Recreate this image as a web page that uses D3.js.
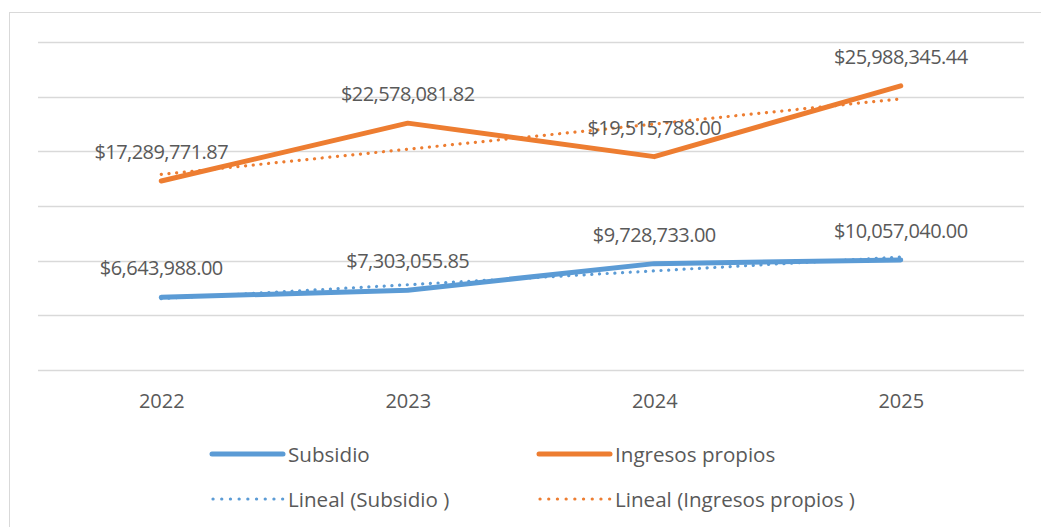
<!DOCTYPE html>
<html>
<head>
<meta charset="utf-8">
<script src="https://cdn.jsdelivr.net/npm/d3@7"></script>
<style>
  html, body { margin: 0; padding: 0; background: #fff; }
  svg { display: block; }
  text { font-family: "Open Sans", sans-serif; fill: #595959; }
</style>
</head>
<body>
<svg id="chart" width="1041" height="527"></svg>
<script>
// Data
const years = ["2022", "2023", "2024", "2025"];
const subsidio = [6643988.00, 7303055.85, 9728733.00, 10057040.00];
const ingresosPropios = [17289771.87, 22578081.82, 19515788.00, 25988345.44];
const yTicks = [0, 5000000, 10000000, 15000000, 20000000, 25000000, 30000000];
const seriesNames = ["Subsidio", "Ingresos propios"];
const trendNames = ["Lineal (Subsidio )", "Lineal (Ingresos propios )"];

const colors = ["#5B9BD5", "#ED7D31"];
const series = [subsidio, ingresosPropios];

const svg = d3.select("#chart");

// Chart frame
svg.append("rect")
  .attr("x", 9.5).attr("y", 12.5)
  .attr("width", 1040).attr("height", 530)
  .attr("fill", "#fff").attr("stroke", "#d9d9d9").attr("stroke-width", 1);

const plot = { left: 38, right: 1024, top: 42, bottom: 370 };

const x = d3.scalePoint().domain(years).range([plot.left, plot.right]).padding(0.5);
const y = d3.scaleLinear().domain([0, 30000000]).range([plot.bottom, plot.top]);

// Horizontal gridlines
svg.append("g").selectAll("line").data(yTicks).join("line")
  .attr("x1", plot.left).attr("x2", plot.right)
  .attr("y1", d => Math.round(y(d)) + 0.5).attr("y2", d => Math.round(y(d)) + 0.5)
  .attr("stroke", "#d9d9d9").attr("stroke-width", 1.5);

// Category axis labels
const xAxis = d3.axisBottom(x).tickSize(0).tickPadding(0);
const gx = svg.append("g").attr("transform", `translate(0,${plot.bottom})`).call(xAxis);
gx.select(".domain").remove();
gx.selectAll("text")
  .attr("dy", null).attr("y", 38)
  .style("font-size", "20px").style("fill", "#595959")
  .style("font-family", "'Open Sans', sans-serif");

// Least-squares trend line for a series
function linearTrend(values) {
  const n = values.length;
  const xs = d3.range(n);
  const mx = d3.mean(xs), my = d3.mean(values);
  const slope = d3.sum(xs, i => (i - mx) * (values[i] - my)) / d3.sum(xs, i => (i - mx) ** 2);
  const icpt = my - slope * mx;
  return xs.map(i => icpt + slope * i);
}

const line = d3.line()
  .x((d, i) => x(years[i]))
  .y(d => y(d));

// Trend lines (dotted)
series.forEach((vals, k) => {
  svg.append("path")
    .attr("d", line(linearTrend(vals)))
    .attr("fill", "none")
    .attr("stroke", colors[k])
    .attr("stroke-width", 3.2)
    .attr("stroke-linecap", "round")
    .attr("stroke-dasharray", "0.1 7.6");
});

// Data lines
series.forEach((vals, k) => {
  svg.append("path")
    .attr("d", line(vals))
    .attr("fill", "none")
    .attr("stroke", colors[k])
    .attr("stroke-width", 5)
    .attr("stroke-linejoin", "round")
    .attr("stroke-linecap", "round");
});

// Value labels
const fmt = v => "$" + d3.format(",.2f")(v);
series.forEach((vals, k) => {
  svg.append("g").selectAll("text").data(vals).join("text")
    .attr("x", (d, i) => x(years[i]))
    .attr("y", d => y(d) - 22)
    .attr("text-anchor", "middle")
    .style("font-size", "20px")
    .style("letter-spacing", "-0.55px")
    .text(d => fmt(d));
});

// Legend
const legendCols = [212, 539];
const legendLineY = [454, 499];
const legendTextY = [461.5, 506.5];
seriesNames.forEach((name, k) => {
  const g = svg.append("g");
  g.append("line")
    .attr("x1", legendCols[k]).attr("x2", legendCols[k] + 71)
    .attr("y1", legendLineY[0]).attr("y2", legendLineY[0])
    .attr("stroke", colors[k]).attr("stroke-width", 5).attr("stroke-linecap", "round");
  g.append("text")
    .attr("x", legendCols[k] + 76).attr("y", legendTextY[0])
    .style("font-size", "20.6px")
    .text(name);
});
trendNames.forEach((name, k) => {
  const g = svg.append("g");
  g.append("line")
    .attr("x1", legendCols[k] + 1).attr("x2", legendCols[k] + 71)
    .attr("y1", legendLineY[1]).attr("y2", legendLineY[1])
    .attr("stroke", colors[k]).attr("stroke-width", 3.2)
    .attr("stroke-linecap", "round").attr("stroke-dasharray", "0.1 8.6");
  g.append("text")
    .attr("x", legendCols[k] + 76).attr("y", legendTextY[1])
    .style("font-size", "20.6px")
    .text(name);
});
</script>
</body>
</html>
